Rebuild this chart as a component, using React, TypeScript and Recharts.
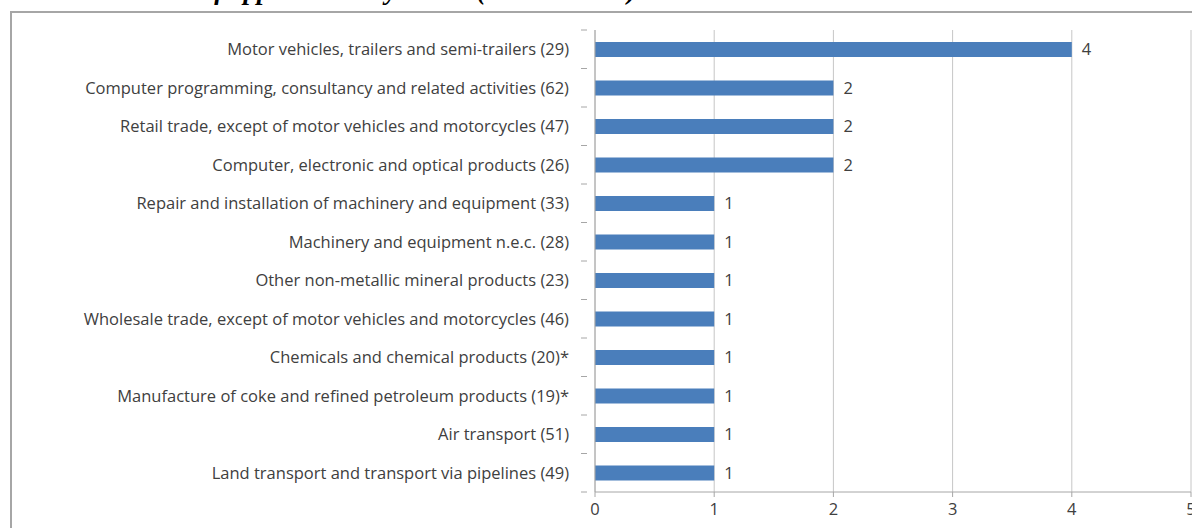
import React from "react";
import { BarChart, Bar, XAxis, YAxis, CartesianGrid, LabelList } from "recharts";

// Sectors (NACE Rev.2 code in brackets), top to bottom
const sectors = [
  "Motor vehicles, trailers and semi-trailers (29)",
  "Computer programming, consultancy and related activities (62)",
  "Retail trade, except of motor vehicles and motorcycles (47)",
  "Computer, electronic and optical products (26)",
  "Repair and installation of machinery and equipment (33)",
  "Machinery and equipment n.e.c. (28)",
  "Other non-metallic mineral products  (23)",
  "Wholesale trade, except of motor vehicles and motorcycles (46)",
  "Chemicals and chemical products (20)*",
  "Manufacture of coke and refined petroleum products (19)*",
  "Air transport (51)",
  "Land transport and transport via pipelines (49)",
];

const applications = [4, 2, 2, 2, 1, 1, 1, 1, 1, 1, 1, 1];

const xTicks = [0, 1, 2, 3, 4, 5];

const title = "Chart 6: Number of applications by sector (NACE Rev.2) in 2013";

const data = sectors.map((name, i) => ({ name, value: applications[i] }));

// ── layout ────────────────────────────────────────────────
const CHART_W = 1230;
const CHART_H = 540;
const PLOT_TOP = 30;
const PLOT_LEFT = 595;
const PLOT_RIGHT = 1191;
const PLOT_BOTTOM = 492;
const X_AXIS_H = 30;
const BAND = (PLOT_BOTTOM - PLOT_TOP) / sectors.length;

const FONT = "'Open Sans', sans-serif";
const FONT_SIZE = 16.5;
const TEXT = "#404040";
const AXIS = "#a6a6a6";
const GRID = "#c6c6c6";

function SectorTick(props: any) {
  const { x, y, payload, index } = props;
  const last = index === sectors.length - 1;
  return (
    <g>
      <line x1={x - 6} x2={x} y1={y - BAND / 2} y2={y - BAND / 2} stroke={AXIS} />
      {last && <line x1={x - 6} x2={x} y1={y + BAND / 2} y2={y + BAND / 2} stroke={AXIS} />}
      <text
        x={x - 18}
        y={y}
        dy="0.36em"
        textAnchor="end"
        fontFamily={FONT}
        fontSize={FONT_SIZE}
        fill={TEXT}
      >
        {payload.value}
      </text>
    </g>
  );
}

export default function App() {
  return (
    <div
      style={{
        position: "absolute",
        left: 0,
        top: 0,
        width: 1192,
        height: 528,
        overflow: "hidden",
        background: "#fff",
      }}
    >
      <svg width={1192} height={20} style={{ position: "absolute", left: 0, top: 0 }}>
        <text
          x={2}
          y={-1}
          fontFamily="'Liberation Serif', 'Times New Roman', serif"
          fontWeight="bold"
          fontStyle="italic"
          fontSize={27}
          fill="#000"
        >
          {title}
        </text>
      </svg>
      <div
        style={{
          position: "absolute",
          left: 10,
          top: 11,
          width: 1300,
          height: 600,
          border: `2px solid ${AXIS}`,
          boxSizing: "border-box",
        }}
      />
      <div style={{ position: "absolute", left: 0, top: 0 }}>
        <BarChart
          width={CHART_W}
          height={CHART_H}
          data={data}
          layout="vertical"
          margin={{
            top: PLOT_TOP,
            right: CHART_W - PLOT_RIGHT,
            bottom: CHART_H - PLOT_BOTTOM - X_AXIS_H,
            left: 0,
          }}
        >
          <CartesianGrid horizontal={false} stroke={GRID} />
          <XAxis
            type="number"
            domain={[0, 5]}
            ticks={xTicks}
            height={X_AXIS_H}
            axisLine={{ stroke: AXIS }}
            tickLine={{ stroke: AXIS }}
            tickSize={5}
            tickMargin={6}
            tick={{ fontFamily: FONT, fontSize: FONT_SIZE, fill: TEXT }}
          />
          <YAxis
            type="category"
            dataKey="name"
            width={PLOT_LEFT}
            axisLine={{ stroke: AXIS }}
            tickLine={false}
            interval={0}
            tick={<SectorTick />}
          />
          <Bar dataKey="value" fill="#4A7EBB" barSize={15} isAnimationActive={false}>
            <LabelList
              dataKey="value"
              position="right"
              offset={10}
              fontFamily={FONT}
              fontSize={FONT_SIZE}
              fill={TEXT}
            />
          </Bar>
        </BarChart>
      </div>
    </div>
  );
}
